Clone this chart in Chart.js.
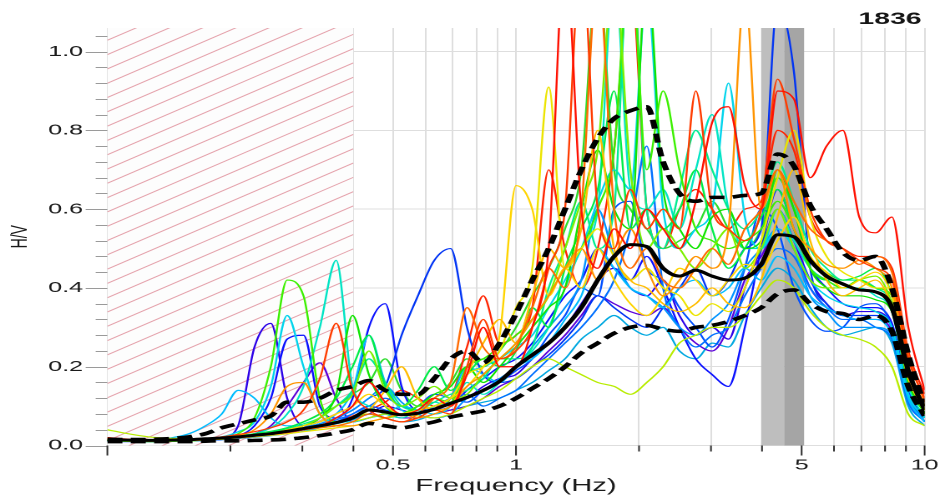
<!DOCTYPE html>
<html>
<head>
<meta charset="utf-8">
<script src="https://cdn.jsdelivr.net/npm/chart.js@4.4.1/dist/chart.umd.min.js"></script>
<style>
  html, body { margin: 0; padding: 0; background: #fff; overflow: hidden; width: 945px; height: 498px; }
  /* the plot is laid out on a narrow canvas and widened to the page width */
  #wrap { width: 566px; height: 498px; transform: scaleX(1.66961); transform-origin: 0 0; }
  canvas { display: block; }
</style>
</head>
<body>
<div id="wrap"><canvas id="hv" width="566" height="498"></canvas></div>
<script>
// Frequency samples (Hz)
const freq = [0.1,0.1096,0.1202,0.1318,0.1445,0.1585,0.1738,0.1905,0.2089,0.2291,
  0.2512,0.2754,0.302,0.3311,0.3631,0.3981,0.4365,0.4786,0.5248,0.5754,
  0.631,0.6918,0.7586,0.8318,0.912,1.0,1.096,1.202,1.318,1.445,
  1.585,1.738,1.905,2.089,2.291,2.512,2.754,3.02,3.311,3.631,
  3.981,4.365,4.786,5.248,5.754,6.31,6.918,7.586,8.318,9.12,10.0];

// H/V of the individual time windows
const w01 = [.02,.017,.014,.013,.013,.014,.016,.018,.02,.024,.028,.033,.04,
  .05,.07,.1,.16,.11,.08,.09,.12,.1,
  .18,.3,.2,.2,.3,.5,1.25,.6,.45,.55,.5,.6,.55,
  .5,.62,.82,.86,.66,.6,.9,.88,.68,.76,.8,.58,.54,.58,.3,.14];
const w02 = [.015,.013,.012,.012,.013,.015,.018,.022,.028,.035,.045,.06,.09,
  .17,.31,.14,.09,.07,.06,.07,.09,.08,
  .2,.32,.22,.24,.3,.45,.6,1.25,.6,.5,.65,.55,.6,
  .55,.9,.6,.55,.52,.6,.93,.78,.6,.52,.5,.47,.45,.42,.22,.12];
const w03 = [.018,.015,.013,.012,.012,.013,.015,.018,.022,.026,.03,.034,.04,
  .045,.05,.06,.08,.07,.06,.08,.12,.16,
  .35,.25,.22,.25,.35,.45,.4,.6,1.2,.6,.45,.5,.42,
  .4,.45,.5,.46,.55,.6,.7,.62,.55,.52,.5,.46,.48,.44,.23,.11];
const w04 = [.02,.016,.014,.013,.013,.014,.016,.019,.025,.04,.08,.15,.16,
  .08,.05,.05,.06,.07,.08,.07,.08,.1,
  .15,.18,.22,.26,.32,.38,.45,.5,.42,.48,.55,.45,.38,
  .42,.48,.45,.55,1.15,.6,.7,.55,.5,.46,.45,.47,.45,.4,.2,.1];
const w05 = [.015,.013,.012,.012,.012,.013,.015,.017,.02,.024,.03,.036,.045,
  .05,.06,.07,.09,.14,.2,.12,.09,.1,
  .18,.26,.32,.26,.38,.5,.45,.55,.8,.5,.42,.4,.36,
  .34,.36,.4,.36,.35,.42,.58,.7,.52,.42,.38,.4,.42,.35,.17,.09];
const w06 = [.015,.013,.012,.012,.012,.013,.014,.016,.019,.022,.026,.03,.035,
  .04,.045,.05,.06,.07,.08,.09,.1,.12,
  .18,.2,.24,.35,.45,.91,.45,.5,.55,.48,.42,.45,.4,
  .38,.33,.36,.34,.4,.52,.68,.8,.58,.48,.44,.42,.4,.4,.2,.1];
const w07 = [.013,.012,.011,.011,.012,.013,.015,.017,.02,.024,.03,.04,.05,
  .06,.08,.1,.13,.1,.08,.09,.1,.12,
  .15,.2,.28,.66,.6,.38,.45,.4,.5,.42,.36,.33,.38,
  .45,.42,.38,.42,.46,.45,.52,.58,.48,.44,.4,.42,.44,.38,.19,.09];
const w08 = [.04,.032,.025,.02,.018,.017,.018,.02,.023,.027,.032,.036,.04,
  .045,.05,.06,.07,.08,.08,.075,.07,.08,
  .1,.12,.14,.17,.2,.22,.2,.18,.16,.15,.13,.16,.2,
  .26,.28,.3,.3,.33,.38,.42,.4,.34,.3,.28,.27,.25,.2,.08,.05];
const w09 = [.012,.011,.01,.01,.011,.012,.014,.016,.02,.025,.03,.04,.05,
  .07,.1,.13,.24,.14,.1,.12,.15,.12,
  .13,.18,.22,.26,.32,.38,.5,.62,.75,1.2,.7,.5,.55,
  .5,.45,.5,.55,.45,.5,.6,.5,.42,.4,.4,.42,.43,.36,.18,.08];
const w10 = [.012,.011,.01,.01,.011,.012,.014,.018,.03,.07,.2,.42,.38,
  .12,.06,.07,.08,.07,.08,.1,.12,.11,
  .2,.22,.25,.28,.32,.38,.45,.5,.6,.75,1.25,.7,.9,
  .7,.55,.52,.5,.52,.55,.62,.55,.45,.42,.4,.42,.4,.38,.18,.09];
const w11 = [.012,.011,.01,.01,.011,.012,.014,.017,.021,.026,.032,.04,.05,
  .07,.13,.33,.18,.1,.08,.1,.13,.15,
  .2,.16,.2,.25,.3,.35,.4,.6,.75,.6,.55,1.2,.65,
  .55,.5,.58,.6,.5,.52,.7,.6,.45,.4,.38,.38,.37,.34,.16,.08];
const w12 = [.014,.012,.011,.011,.012,.013,.016,.02,.025,.03,.036,.045,.06,
  .08,.12,.2,.28,.15,.1,.14,.2,.14,
  .18,.22,.2,.24,.35,.3,.45,.55,.65,.9,.55,.6,.55,
  .6,.7,.55,.45,.5,.58,.65,.55,.45,.42,.42,.43,.45,.38,.18,.08];
const w13 = [.015,.013,.012,.012,.013,.014,.016,.019,.023,.028,.034,.042,.055,
  .07,.1,.14,.22,.16,.1,.09,.11,.13,
  .14,.17,.22,.22,.25,.4,.5,.62,.5,.6,1.3,.6,.5,
  .65,.8,.7,.6,.55,.6,.72,.62,.5,.45,.42,.42,.4,.36,.17,.08];
const w14 = [.013,.012,.011,.011,.012,.013,.015,.018,.022,.03,.045,.08,.15,
  .3,.47,.15,.1,.08,.07,.09,.11,.1,
  .16,.13,.16,.2,.24,.3,.4,.5,.6,1.2,.65,.6,.65,
  .55,.7,.84,.6,.5,.5,.6,.52,.45,.42,.4,.4,.38,.34,.15,.07];
const w15 = [.015,.013,.012,.012,.013,.015,.018,.022,.035,.06,.15,.33,.2,
  .08,.06,.06,.07,.08,.1,.09,.08,.1,
  .18,.2,.22,.25,.28,.35,.42,.5,.62,.7,.65,1.15,.6,
  .5,.55,.6,.92,.58,.5,.55,.5,.42,.38,.36,.35,.34,.3,.13,.07];
const w16 = [.015,.014,.013,.014,.02,.03,.05,.08,.14,.12,.07,.05,.05,
  .06,.08,.14,.28,.16,.09,.08,.1,.12,
  .2,.18,.16,.2,.22,.26,.32,.38,.5,.45,.4,.38,.35,
  .4,.42,.38,.4,.45,.42,.48,.45,.38,.35,.33,.32,.32,.28,.12,.06];
const w17 = [.012,.011,.01,.01,.011,.012,.014,.016,.02,.025,.03,.036,.045,
  .055,.07,.09,.12,.15,.11,.08,.07,.08,
  .12,.14,.17,.2,.25,.3,.35,.42,.6,.48,.4,.38,.35,
  .3,.28,.32,.36,.45,.5,.55,.5,.38,.34,.3,.3,.3,.28,.12,.06];
const w18 = [.012,.011,.01,.01,.011,.012,.014,.016,.019,.023,.028,.034,.04,
  .05,.065,.08,.1,.12,.1,.09,.1,.12,
  .13,.1,.12,.14,.18,.22,.26,.3,.35,.42,.55,.76,.4,
  .3,.25,.28,.3,.38,.45,.5,.48,.4,.35,.32,.32,.3,.27,.11,.06];
const w19 = [.011,.01,.01,.01,.011,.012,.013,.015,.018,.022,.026,.032,.04,
  .05,.06,.08,.1,.09,.08,.1,.13,.12,
  .11,.14,.16,.19,.22,.28,.33,.4,.38,.6,.62,.45,.42,
  .35,.3,.25,.32,.45,.6,.55,.4,.32,.29,.3,.35,.36,.3,.13,.06];
const w20 = [.012,.011,.01,.01,.011,.012,.014,.016,.019,.023,.028,.035,.045,
  .055,.07,.09,.12,.15,.28,.38,.47,.5,
  .3,.18,.16,.17,.2,.23,.27,.32,.38,.35,.32,.3,.35,
  .4,.45,.38,.42,.5,.55,1.12,.95,.45,.36,.33,.33,.33,.3,.13,.06];
const w21 = [.011,.01,.01,.01,.011,.012,.014,.018,.025,.05,.12,.27,.28,
  .1,.07,.12,.3,.36,.15,.09,.09,.1,
  .14,.17,.2,.22,.26,.32,.38,.42,.5,.45,.42,.48,.4,
  .3,.22,.18,.15,.3,.5,.65,.55,.45,.4,.36,.35,.35,.31,.14,.07];
const w22 = [.012,.011,.01,.01,.011,.012,.014,.018,.05,.25,.31,.12,.05,
  .05,.06,.07,.08,.1,.09,.08,.1,.11,
  .12,.15,.17,.18,.22,.26,.3,.36,.42,.45,.4,.38,.42,
  .33,.28,.3,.27,.4,.5,.6,.52,.42,.36,.33,.34,.34,.3,.13,.06];
const w23 = [.012,.011,.01,.01,.011,.012,.014,.016,.02,.03,.05,.1,.16,
  .21,.12,.06,.07,.08,.07,.07,.08,.09,
  .1,.12,.15,.17,.2,.24,.28,.33,.38,.36,.34,.33,.35,
  .3,.26,.24,.3,.42,.48,.55,.5,.4,.35,.33,.32,.32,.29,.12,.06];
const w24 = [.016,.014,.012,.012,.012,.013,.015,.017,.02,.024,.028,.034,.042,
  .05,.06,.075,.09,.11,.14,.12,.1,.12,
  .25,.38,.26,.28,.35,.7,.5,.4,.5,.75,1.2,.6,.5,
  .6,.65,.6,.55,.6,.62,.8,.75,.58,.52,.5,.48,.48,.45,.24,.13];
const w25 = [.013,.012,.011,.011,.012,.013,.015,.018,.022,.028,.035,.045,.06,
  .08,.1,.13,.16,.22,.14,.1,.12,.16,
  .22,.2,.24,.3,.38,.45,.55,.7,1.2,.7,.6,.55,.5,
  .52,.55,.62,.55,.5,.55,.68,.6,.48,.44,.42,.42,.4,.36,.17,.08];
const w26 = [.012,.011,.01,.01,.011,.012,.013,.015,.018,.021,.025,.03,.036,
  .045,.055,.065,.08,.07,.06,.065,.08,.09,
  .1,.11,.12,.14,.16,.19,.22,.27,.3,.33,.3,.28,.3,
  .24,.22,.26,.25,.33,.4,.45,.42,.35,.3,.28,.29,.3,.26,.1,.05];

const windows = [w01,w02,w03,w04,w05,w06,w07,w08,w09,w10,w11,w12,w13,
                 w14,w15,w16,w17,w18,w19,w20,w21,w22,w23,w24,w25,w26];
const windowColors = ['#ff1000','#ff3c00','#ff6a00','#ff9400','#ffbc00','#ece400','#ffd400',
  '#b8ec00','#7cf000','#3cf000','#10e400','#00ec48','#00ec90','#00e4c4','#00d4ec',
  '#00bcff','#0094ff','#0070ff','#0050ff','#0034f4','#0a10ff','#2c00e8','#5c00d8',
  '#ff2400','#2cdc2c','#00a8e0'];

// Average curve and its standard-deviation envelope
const hvMean = [.015,.014,.013,.013,.014,.015,.017,.019,.022,.026,
  .03,.036,.043,.05,.058,.07,.09,.085,.078,.082,
  .092,.107,.122,.14,.163,.2,.23,.26,.3,.35,
  .42,.48,.51,.505,.45,.43,.445,.43,.42,.425,
  .46,.535,.53,.47,.43,.41,.395,.39,.35,.19,.09];
const hvUpper = [.016,.015,.015,.016,.018,.022,.03,.045,.055,.065,
  .075,.11,.11,.12,.14,.15,.165,.14,.13,.13,
  .17,.22,.24,.21,.26,.335,.42,.5,.6,.7,
  .78,.83,.85,.86,.72,.64,.62,.63,.63,.635,
  .64,.74,.71,.61,.55,.49,.47,.48,.4,.23,.1];
const hvLower = [.01,.01,.01,.01,.01,.01,.011,.012,.012,.013,
  .014,.016,.02,.025,.032,.04,.056,.05,.045,.052,
  .06,.072,.08,.088,.1,.12,.145,.17,.2,.235,
  .26,.285,.3,.305,.295,.29,.3,.305,.315,.33,
  .35,.385,.395,.36,.34,.335,.32,.33,.29,.15,.075];

// Axes
const xTicks = [0.1,0.2,0.3,0.4,0.5,0.6,0.7,0.8,0.9,1,2,3,4,5,6,7,8,9,10];
const xMajor = [0.1,0.5,1,5,10];
const xLabelValues = [0.5,1,5,10];
const xLabelTexts = ['0.5','1','5','10'];
const yTicks = [0,0.2,0.4,0.6,0.8,1.0];
const yMinor = [0,0.04,0.08,0.12,0.16,0.2,0.24,0.28,0.32,0.36,0.4,0.44,0.48,0.52,0.56,0.6,
  0.64,0.68,0.72,0.76,0.8,0.84,0.88,0.92,0.96,1.0,1.04];
const hatchRange = [0.1, 0.4];          // below the lowest usable frequency
const peakBand = [3.98, 4.53, 5.07];    // f0 - sigma, f0, f0 + sigma
const stationName = '1836';

const FONT = '"Liberation Sans", Arial, Helvetica, sans-serif';

const decor = {
  id: 'decor',
  beforeDatasetsDraw(chart) {
    const { ctx, chartArea: a, scales: { x } } = chart;
    const h = a.bottom - a.top;
    // hatched low-frequency zone
    const hx0 = x.getPixelForValue(hatchRange[0]);
    const hx1 = x.getPixelForValue(hatchRange[1]);
    const w = hx1 - hx0;
    ctx.save();
    ctx.beginPath();
    ctx.rect(hx0, a.top, w, h);
    ctx.clip();
    ctx.fillStyle = '#fdfdfd';
    ctx.fillRect(hx0, a.top, w, h);
    ctx.strokeStyle = 'rgba(205,70,90,0.5)';
    ctx.lineWidth = 0.9;
    const slope = 0.72, gap = 14.3;
    ctx.beginPath();
    for (let c = a.top - 2; c < a.bottom + slope * w + gap; c += gap) {
      ctx.moveTo(hx0, c);
      ctx.lineTo(hx1, c - slope * w);
    }
    ctx.stroke();
    ctx.restore();
    // peak frequency band
    const b0 = x.getPixelForValue(peakBand[0]);
    const b1 = x.getPixelForValue(peakBand[1]);
    const b2 = x.getPixelForValue(peakBand[2]);
    ctx.save();
    ctx.fillStyle = '#bebebe';
    ctx.fillRect(b0, a.top, b1 - b0, h);
    ctx.fillStyle = '#a5a5a5';
    ctx.fillRect(b1, a.top, b2 - b1, h);
    ctx.restore();
  },
  afterDraw(chart) {
    const { ctx, chartArea: a, scales: { x, y } } = chart;
    ctx.save();
    ctx.lineWidth = 1;
    ctx.strokeStyle = '#9a9a9a';
    ctx.beginPath();
    yMinor.forEach(v => {
      const py = Math.round(y.getPixelForValue(v)) + 0.5;
      const len = yTicks.includes(v) ? 13 : 7;
      ctx.moveTo(a.left - len, py);
      ctx.lineTo(a.left, py);
    });
    ctx.stroke();
    ctx.strokeStyle = '#2a2a2a';
    ctx.beginPath();
    xTicks.forEach(v => {
      const px = x.getPixelForValue(v);
      const len = xMajor.includes(v) ? 10 : 6;
      ctx.moveTo(px, a.bottom);
      ctx.lineTo(px, a.bottom + len);
    });
    ctx.stroke();
    ctx.fillStyle = '#151515';
    ctx.font = 'bold 17px ' + FONT;
    ctx.textAlign = 'right';
    ctx.textBaseline = 'alphabetic';
    ctx.fillText(stationName, 552, 24);
    ctx.restore();
  }
};

const toPoints = vals => freq.map((f, i) => ({ x: f, y: vals[i] }));

const datasets = [
  { data: toPoints(hvMean), borderColor: '#000', borderWidth: 3, order: 0 },
  { data: toPoints(hvUpper), borderColor: '#000', borderWidth: 3.6, borderDash: [9, 5], order: 0 },
  { data: toPoints(hvLower), borderColor: '#000', borderWidth: 3.6, borderDash: [9, 5], order: 0 },
  ...windows.map((vals, i) => ({
    data: toPoints(vals), borderColor: windowColors[i], borderWidth: 1.2, order: 1
  }))
];

new Chart(document.getElementById('hv'), {
  type: 'line',
  data: { datasets },
  plugins: [decor],
  options: {
    responsive: false,
    animation: false,
    devicePixelRatio: 2,
    layout: { padding: { top: 28, right: 12.2, bottom: 0, left: 0 } },
    elements: {
      point: { radius: 0 },
      line: { cubicInterpolationMode: 'monotone', borderJoinStyle: 'round', fill: false }
    },
    plugins: { legend: { display: false }, tooltip: { enabled: false }, title: { display: false } },
    scales: {
      x: {
        type: 'logarithmic',
        min: 0.1, max: 10,
        afterBuildTicks: s => { s.ticks = xTicks.map(v => ({ value: v, major: xMajor.includes(v) })); },
        afterFit: s => { s.height = 52.5; s.paddingLeft = 0; s.paddingRight = 0; },
        grid: { color: '#dedede', lineWidth: 1, drawTicks: false },
        border: { display: false },
        ticks: {
          autoSkip: false, maxRotation: 0, minRotation: 0, padding: 11,
          color: '#1a1a1a', font: { family: FONT, size: 15 },
          callback: v => { const k = xLabelValues.indexOf(v); return k >= 0 ? xLabelTexts[k] : ''; }
        },
        title: { display: true, text: 'Frequency (Hz)', color: '#1a1a1a',
                 font: { family: FONT, size: 17.5 }, padding: { top: 0, bottom: 1.5 } }
      },
      y: {
        type: 'linear',
        min: 0, max: 1.06,
        afterBuildTicks: s => { s.ticks = yTicks.map(v => ({ value: v })); },
        afterFit: s => { s.width = 64.3; },
        grid: { color: '#dedede', lineWidth: 1, drawTicks: false },
        border: { display: false },
        ticks: {
          padding: 14.6, color: '#1a1a1a', font: { family: FONT, size: 15 },
          callback: v => v.toFixed(1)
        },
        title: { display: true, text: 'H/V', color: '#1a1a1a',
                 font: { family: FONT, size: 14 }, padding: { top: 3.6, bottom: 0 } }
      }
    }
  }
});
</script>
</body>
</html>
